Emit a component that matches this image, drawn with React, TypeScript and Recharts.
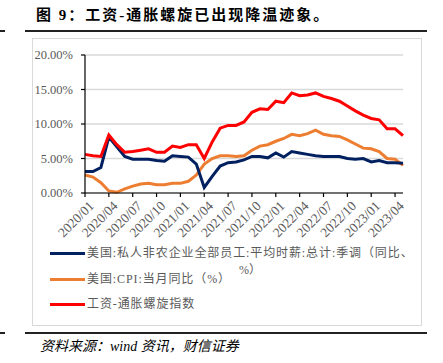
import { CartesianGrid, Line, LineChart, XAxis, YAxis } from 'recharts';

const months = [
  '2020/01', '2020/02', '2020/03', '2020/04', '2020/05', '2020/06', '2020/07', '2020/08', '2020/09', '2020/10', '2020/11', '2020/12',
  '2021/01', '2021/02', '2021/03', '2021/04', '2021/05', '2021/06', '2021/07', '2021/08', '2021/09', '2021/10', '2021/11', '2021/12',
  '2022/01', '2022/02', '2022/03', '2022/04', '2022/05', '2022/06', '2022/07', '2022/08', '2022/09', '2022/10', '2022/11', '2022/12',
  '2023/01', '2023/02', '2023/03', '2023/04', '2023/05',
];

// 美国私人非农平均时薪同比 (%)
const wage = [
  3.1, 3.1, 3.7, 8.1, 6.7, 5.3, 4.9, 4.9, 4.9, 4.7, 4.6, 5.4,
  5.3, 5.2, 4.2, 0.8, 2.4, 3.9, 4.4, 4.5, 4.8, 5.3, 5.3, 5.1,
  5.8, 5.2, 6.0, 5.8, 5.6, 5.4, 5.3, 5.3, 5.3, 5.0, 4.9, 5.0,
  4.5, 4.7, 4.4, 4.4, 4.3,
];

// 美国CPI当月同比 (%)
const cpi = [
  2.6, 2.3, 1.5, 0.3, 0.1, 0.6, 1.0, 1.3, 1.4, 1.2, 1.2, 1.4,
  1.4, 1.7, 2.6, 4.2, 5.0, 5.4, 5.4, 5.3, 5.4, 6.2, 6.8, 7.0,
  7.5, 7.9, 8.5, 8.3, 8.6, 9.1, 8.5, 8.3, 8.2, 7.7, 7.1, 6.5,
  6.4, 6.0, 5.0, 4.9, 4.0,
];

// 工资-通胀螺旋指数 (%)
const spiral = [
  5.6, 5.4, 5.3, 8.4, 7.0, 5.9, 6.0, 6.2, 6.4, 5.9, 5.9, 6.8,
  6.6, 7.0, 7.0, 5.0, 7.4, 9.4, 9.8, 9.8, 10.3, 11.7, 12.2, 12.1,
  13.3, 13.1, 14.5, 14.1, 14.2, 14.5, 14.0, 13.7, 13.3, 12.6, 11.9, 11.3,
  10.8, 10.6, 9.3, 9.3, 8.3,
];

const yTicks = [0, 5, 10, 15, 20];

const data = months.map((m, i) => ({ month: m, wage: wage[i], cpi: cpi[i], spiral: spiral[i] }));

const SERIF = '"Liberation Serif", "Noto Sans CJK SC", serif';
const GREY = '#595959';

function MonthTick(props: any) {
  const { x, y, payload } = props;
  return (
    <text
      x={x + 3}
      y={y + 1}
      transform={`rotate(-45, ${x + 3}, ${y + 1})`}
      textAnchor="end"
      dominantBaseline="hanging"
      fill={GREY}
      fontSize={13.5}
      fontFamily={SERIF}
    >
      {payload.value}
    </text>
  );
}

function LegendRow({ top, color, label }: { top: number; color: string; label: string }) {
  return (
    <>
      <div style={{ position: 'absolute', left: 50, top: top - 1.5, width: 35, height: 3, background: color }} />
      <div
        style={{
          position: 'absolute',
          left: 87,
          top: top - 9,
          height: 18,
          lineHeight: '18px',
          fontSize: 12,
          letterSpacing: 0.9,
          color: GREY,
          fontFamily: SERIF,
          whiteSpace: 'nowrap',
        }}
      >
        {label}
      </div>
    </>
  );
}

export default function App() {
  return (
    <div style={{ position: 'absolute', left: 0, top: 0, width: 443, height: 363, background: '#fff', overflow: 'hidden' }}>
      <div
        style={{
          position: 'absolute',
          left: 36,
          top: 6,
          lineHeight: '18px',
          fontSize: 15,
          fontWeight: 700,
          letterSpacing: 2,
          fontFamily: SERIF,
          whiteSpace: 'nowrap',
          color: '#000',
        }}
      >
        图 9：工资-通胀螺旋已出现降温迹象。
      </div>
      <div style={{ position: 'absolute', left: 25, top: 30, width: 402, height: 1.5, background: '#222' }} />
      <div style={{ position: 'absolute', left: 0, top: 30, width: 5, height: 1.5, background: '#222' }} />

      <div
        style={{
          position: 'absolute',
          left: 32,
          top: 38,
          width: 390,
          height: 288,
          border: '1px solid #d9d9d9',
          boxSizing: 'border-box',
        }}
      />

      <div style={{ position: 'absolute', left: 0, top: 0 }}>
        <LineChart width={443} height={363} data={data} margin={{ top: 55, right: 40, bottom: 110, left: 35 }}>
          <CartesianGrid vertical={false} stroke="#d9d9d9" strokeWidth={1.5} />
          <XAxis
            dataKey="month"
            interval={2}
            height={60}
            tick={<MonthTick />}
            tickSize={4}
            axisLine={{ stroke: '#000', strokeWidth: 1.2 }}
            tickLine={{ stroke: '#000', strokeWidth: 1.2 }}
          />
          <YAxis
            width={50}
            domain={[0, 20]}
            ticks={yTicks}
            tickFormatter={(v: number) => `${v.toFixed(2)}%`}
            tick={{ fill: GREY, fontSize: 12.5, fontFamily: SERIF }}
            tickSize={4}
            tickMargin={8}
            axisLine={{ stroke: '#000', strokeWidth: 1.2 }}
            tickLine={{ stroke: '#000', strokeWidth: 1.2 }}
          />
          <Line dataKey="cpi" stroke="#ED7D31" strokeWidth={3} dot={false} isAnimationActive={false} />
          <Line dataKey="wage" stroke="#002060" strokeWidth={3} dot={false} isAnimationActive={false} />
          <Line dataKey="spiral" stroke="#FF0000" strokeWidth={3} dot={false} isAnimationActive={false} />
        </LineChart>
      </div>

      <LegendRow top={253} color="#002060" label="美国:私人非农企业全部员工:平均时薪:总计:季调（同比、" />
      <div
        style={{
          position: 'absolute',
          left: 239,
          top: 261,
          lineHeight: '18px',
          fontSize: 12,
          color: GREY,
          fontFamily: SERIF,
        }}
      >
        %）
      </div>
      <LegendRow top={279} color="#ED7D31" label="美国:CPI:当月同比（%）" />
      <LegendRow top={304} color="#FF0000" label="工资-通胀螺旋指数" />

      <div style={{ position: 'absolute', left: 25, top: 332, width: 402, height: 1.5, background: '#222' }} />
      <div style={{ position: 'absolute', left: 0, top: 332, width: 5, height: 1.5, background: '#222' }} />
      <div
        style={{
          position: 'absolute',
          left: 40,
          top: 338,
          lineHeight: '18px',
          fontSize: 14,
          fontStyle: 'italic',
          fontFamily: SERIF,
          color: '#000',
          whiteSpace: 'nowrap',
        }}
      >
        资料来源：wind 资讯，财信证券
      </div>
    </div>
  );
}
